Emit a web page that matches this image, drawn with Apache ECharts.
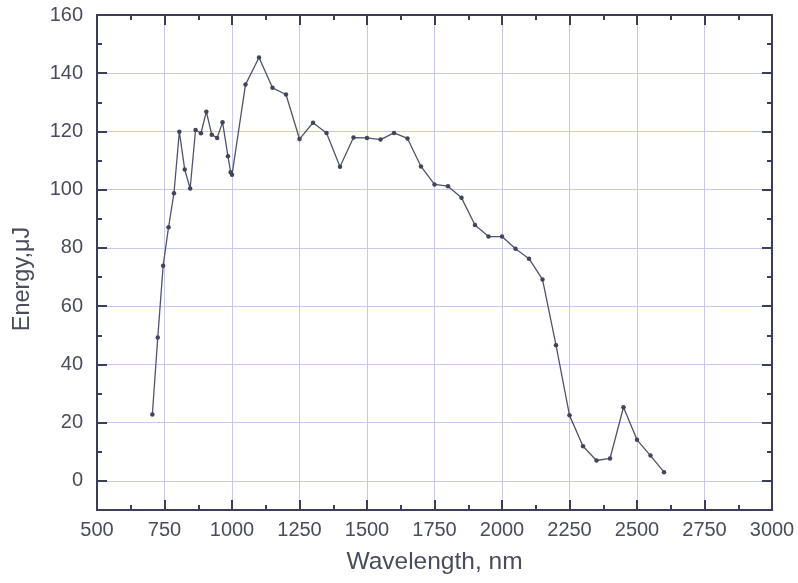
<!DOCTYPE html>
<html>
<head>
<meta charset="utf-8">
<script src="https://cdn.jsdelivr.net/npm/echarts@6/dist/echarts.min.js"></script>
<style>
html,body{margin:0;padding:0;background:#fff;}
#chart{width:798px;height:583px;}
</style>
</head>
<body>
<div id="chart"></div>
<script>
// ---- data ----
const wavelength = [705, 725, 745, 765, 785, 805, 825, 845, 865, 885, 905, 925, 945, 965, 985, 995, 1000,
  1050, 1100, 1150, 1200, 1250, 1300, 1350, 1400, 1450, 1500, 1550, 1600, 1650, 1700, 1750, 1800,
  1850, 1900, 1950, 2000, 2050, 2100, 2150, 2200, 2250, 2300, 2350, 2400, 2450, 2500, 2550, 2600];
const energy = [22.8, 49.2, 73.9, 87.1, 98.8, 119.9, 106.9, 100.4, 120.5, 119.4, 126.8, 118.9, 117.8, 123.2, 111.5, 106.0, 105.1,
  136.1, 145.4, 135.0, 132.7, 117.4, 123.0, 119.5, 107.9, 117.9, 117.8, 117.2, 119.5, 117.6, 108.0, 101.8, 101.2,
  97.2, 87.9, 83.9, 83.9, 79.7, 76.3, 69.2, 46.6, 22.5, 11.9, 7.0, 7.7, 25.3, 14.1, 8.7, 3.0];
const xTicks = [500, 750, 1000, 1250, 1500, 1750, 2000, 2250, 2500, 2750, 3000];
const yTicks = [0, 20, 40, 60, 80, 100, 120, 140, 160];
const yMinorStep = 10;
const yBottom = -10;

// ---- styles ----
const frameColor = '#3a3e56';
const gridColor = '#c6c8f0';
const textColor = '#4a4b5c';
const font = '"Liberation Sans", Arial, Helvetica, sans-serif';

const xStep = xTicks[1] - xTicks[0];
const yStep = yTicks[1] - yTicks[0];
const yTop = yTicks[yTicks.length - 1];

const chart = echarts.init(document.getElementById('chart'), null, {renderer: 'canvas'});

function baseX(pos, labels) {
  return {
    type: 'value', position: pos,
    min: xTicks[0], max: xTicks[xTicks.length - 1], interval: xStep,
    axisLine: {show: true, onZero: false, lineStyle: {color: frameColor, width: 2}},
    axisTick: {show: true, inside: true, length: 10, lineStyle: {color: frameColor, width: 2}},
    minorTick: {show: true, splitNumber: 2, length: 5, lineStyle: {color: frameColor, width: 2}},
    axisLabel: labels ? {show: true, margin: 10, color: textColor, fontSize: 20, fontFamily: font,
      formatter: v => String(v)} : {show: false},
    splitLine: {show: labels, lineStyle: {color: gridColor, width: 1}},
    minorSplitLine: {show: false}
  };
}

// data axis with minor (10-unit) ticks, and an inverted helper axis (value = -energy)
// whose ticks land on 0,20,...,160 for the long ticks, labels and grid lines.
function minorY(pos) {
  return {
    type: 'value', position: pos,
    min: yBottom, max: yTop, interval: yMinorStep,
    axisLine: {show: true, onZero: false, lineStyle: {color: frameColor, width: 2}},
    axisTick: {show: true, inside: true, length: 5, lineStyle: {color: frameColor, width: 2}},
    axisLabel: {show: false},
    splitLine: {show: false}
  };
}
function majorY(pos, labels) {
  return {
    type: 'value', position: pos, inverse: true,
    min: -yTop, max: -yBottom, interval: yStep,
    axisLine: {show: false, onZero: false},
    axisTick: {show: true, inside: true, length: 10, lineStyle: {color: frameColor, width: 2}},
    axisLabel: labels ? {
      show: true, margin: 14, color: textColor, fontSize: 20, fontFamily: font,
      formatter: v => (v > 0 ? '' : String(v === 0 ? 0 : -v))
    } : {show: false},
    splitLine: {show: labels, lineStyle: {color: gridColor, width: 1}}
  };
}

const option = {
  backgroundColor: '#ffffff',
  animation: false,
  grid: {left: 97, right: 26, top: 15, bottom: 73, containLabel: false},
  xAxis: [
    Object.assign(baseX('bottom', true), {
      name: 'Wavelength, nm', nameLocation: 'middle', nameGap: 40,
      nameTextStyle: {color: textColor, fontSize: 24.5, fontFamily: font}
    }),
    baseX('top', false)
  ],
  yAxis: [
    minorY('left'),
    majorY('left', true),
    minorY('right'),
    majorY('right', false)
  ],
  graphic: [{
    type: 'text', x: 23, y: 279, rotation: Math.PI / 2,
    style: {text: 'Energy,\u03bcJ', fill: textColor, fontSize: 23.5, fontFamily: font,
      align: 'center', verticalAlign: 'middle'}
  }],
  series: [{
    type: 'line', xAxisIndex: 0, yAxisIndex: 0,
    data: wavelength.map((w, i) => [w, energy[i]]),
    symbol: 'circle', symbolSize: 4.5, showSymbol: true,
    lineStyle: {color: '#50536a', width: 1.3},
    itemStyle: {color: '#42455a'},
    z: 5
  }]
};
chart.setOption(option);
</script>
</body>
</html>
